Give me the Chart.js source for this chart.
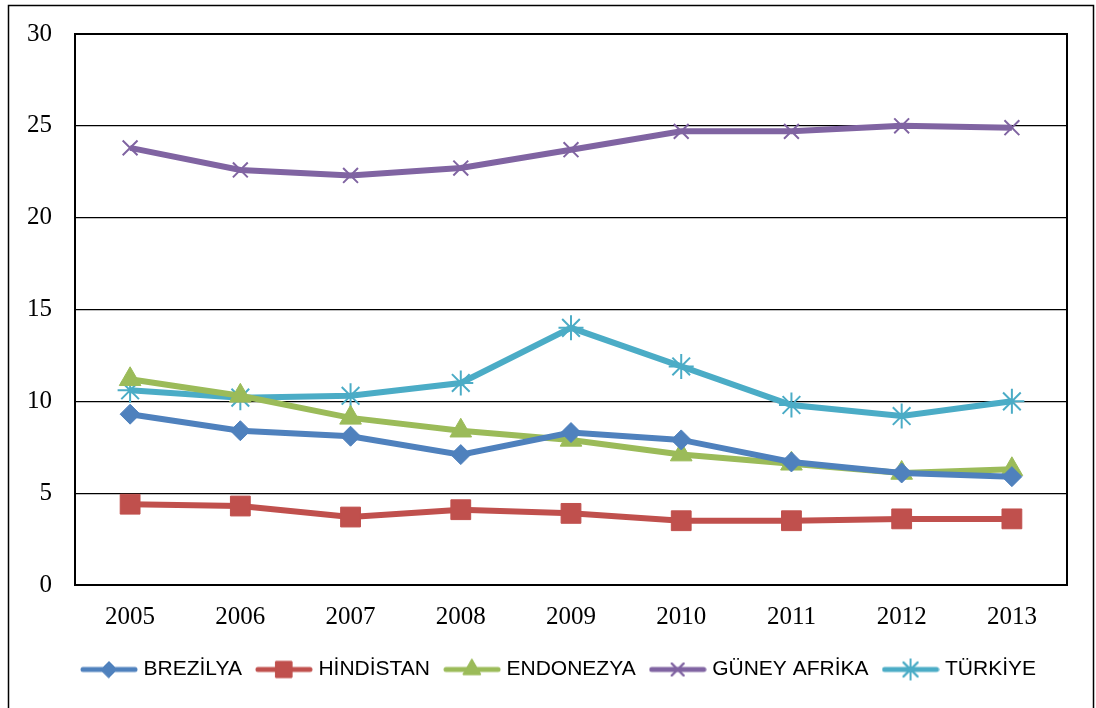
<!DOCTYPE html>
<html>
<head>
<meta charset="utf-8">
<script src="https://cdn.jsdelivr.net/npm/chart.js@4/dist/chart.umd.min.js"></script>
<style>
  html, body { margin: 0; padding: 0; background: #fff; }
  #wrap { position: relative; width: 1096px; height: 708px; }
</style>
</head>
<body>
<div id="wrap"><canvas id="c" width="1096" height="708"></canvas></div>
<script>
// Years on the category axis
const years = ['2005', '2006', '2007', '2008', '2009', '2010', '2011', '2012', '2013'];

// Series values per country
const brezilya    = [9.3, 8.4, 8.1, 7.1, 8.3, 7.9, 6.7, 6.1, 5.9];
const hindistan   = [4.4, 4.3, 3.7, 4.1, 3.9, 3.5, 3.5, 3.6, 3.6];
const endonezya   = [11.2, 10.3, 9.1, 8.4, 7.9, 7.1, 6.6, 6.1, 6.3];
const guneyAfrika = [23.8, 22.6, 22.3, 22.7, 23.7, 24.7, 24.7, 25.0, 24.9];
const turkiye     = [10.6, 10.2, 10.3, 11.0, 14.0, 11.9, 9.8, 9.2, 10.0];

// Value axis ticks
const yTicks = [0, 5, 10, 15, 20, 25, 30];

const seriesDefs = [
  { label: 'BREZİLYA',     data: brezilya,    color: '#4F81BD', style: 'rectRot',  radius: 10,   bw: 1 },
  { label: 'HİNDİSTAN',    data: hindistan,   color: '#C0504D', style: 'rect',     radius: 14,   bw: 1 },
  { label: 'ENDONEZYA',    data: endonezya,   color: '#9BBB59', style: 'triangle', radius: 12.5, bw: 1 },
  { label: 'GÜNEY AFRİKA', data: guneyAfrika, color: '#8064A2', style: 'crossRot', radius: 10.5, bw: 2 },
  { label: 'TÜRKİYE',      data: turkiye,     color: '#4BACC6', style: 'star',     radius: 12.5, bw: 2 }
];

// Small legend swatch: a line segment with the series marker in the middle
function makeSwatch(def) {
  const cv = document.createElement('canvas');
  cv.width = 58; cv.height = 28;
  const ctx = cv.getContext('2d');
  ctx.strokeStyle = def.color;
  ctx.lineWidth = 5;
  ctx.lineCap = 'round';
  ctx.beginPath();
  ctx.moveTo(3, 14); ctx.lineTo(55, 14);
  ctx.stroke();
  ctx.fillStyle = def.color;
  ctx.lineWidth = def.bw;
  Chart.helpers.drawPoint(ctx, { pointStyle: def.style, radius: def.radius * 0.8, borderWidth: def.bw, rotation: 0 }, 29, 14);
  ctx.fill();
  ctx.stroke();
  return cv;
}

const swatches = seriesDefs.map(makeSwatch);

const datasets = seriesDefs.map(d => ({
  label: d.label,
  data: d.data,
  borderColor: d.color,
  backgroundColor: d.color,
  borderWidth: 6,
  tension: 0,
  pointStyle: d.style,
  pointRadius: d.radius,
  pointHoverRadius: d.radius,
  pointBorderWidth: d.bw,
  pointBackgroundColor: d.color,
  pointBorderColor: d.color
}));

// Frame around the plot area and around the whole figure;
// the legend row is centred under the plot rather than the canvas
const frames = {
  id: 'frames',
  afterLayout(chart) {
    const lg = chart.legend;
    if (lg) { lg.left += 27; lg.right += 27; }
  },
  beforeDatasetsDraw(chart) {
    const { ctx, chartArea: a } = chart;
    ctx.save();
    ctx.strokeStyle = '#000';
    ctx.lineWidth = 2;
    ctx.strokeRect(a.left, a.top, a.right - a.left, a.bottom - a.top);
    ctx.restore();
  },
  afterDraw(chart) {
    const ctx = chart.ctx;
    ctx.save();
    ctx.strokeStyle = '#000';
    ctx.lineWidth = 1.5;
    ctx.strokeRect(8.5, 5.5, 1085, 712);
    ctx.restore();
  }
};

new Chart(document.getElementById('c'), {
  type: 'line',
  data: { labels: years, datasets },
  plugins: [frames],
  options: {
    responsive: false,
    animation: false,
    layout: { padding: { top: 34, right: 29, left: 0, bottom: 18 } },
    plugins: {
      tooltip: { enabled: false },
      legend: {
        position: 'bottom',
        labels: {
          usePointStyle: true,
          pointStyleWidth: 48,
          padding: 18,
          color: '#000',
          font: { family: "'Liberation Sans', Arial, sans-serif", size: 21 },
          generateLabels(chart) {
            return chart.data.datasets.map((ds, i) => ({
              text: ds.label,
              fillStyle: ds.borderColor,
              strokeStyle: ds.borderColor,
              lineWidth: 0,
              pointStyle: swatches[i],
              hidden: false,
              datasetIndex: i,
              fontColor: '#000'
            }));
          }
        }
      }
    },
    scales: {
      x: {
        offset: true,
        grid: { display: false, drawTicks: false },
        border: { display: false },
        ticks: {
          color: '#000',
          padding: 17,
          maxRotation: 0,
          font: { family: "'Liberation Serif', 'Times New Roman', serif", size: 25 }
        },
        afterFit(s) { s.height = 56; }
      },
      y: {
        min: 0,
        max: 30,
        afterBuildTicks(s) { s.ticks = yTicks.map(v => ({ value: v })); },
        grid: { color: '#000', lineWidth: 1.3, drawTicks: false },
        border: { display: false },
        ticks: {
          color: '#000',
          padding: 23,
          font: { family: "'Liberation Serif', 'Times New Roman', serif", size: 25, lineHeight: 0.8 }
        },
        afterFit(s) { s.width = 75; }
      }
    }
  }
});
</script>
</body>
</html>
